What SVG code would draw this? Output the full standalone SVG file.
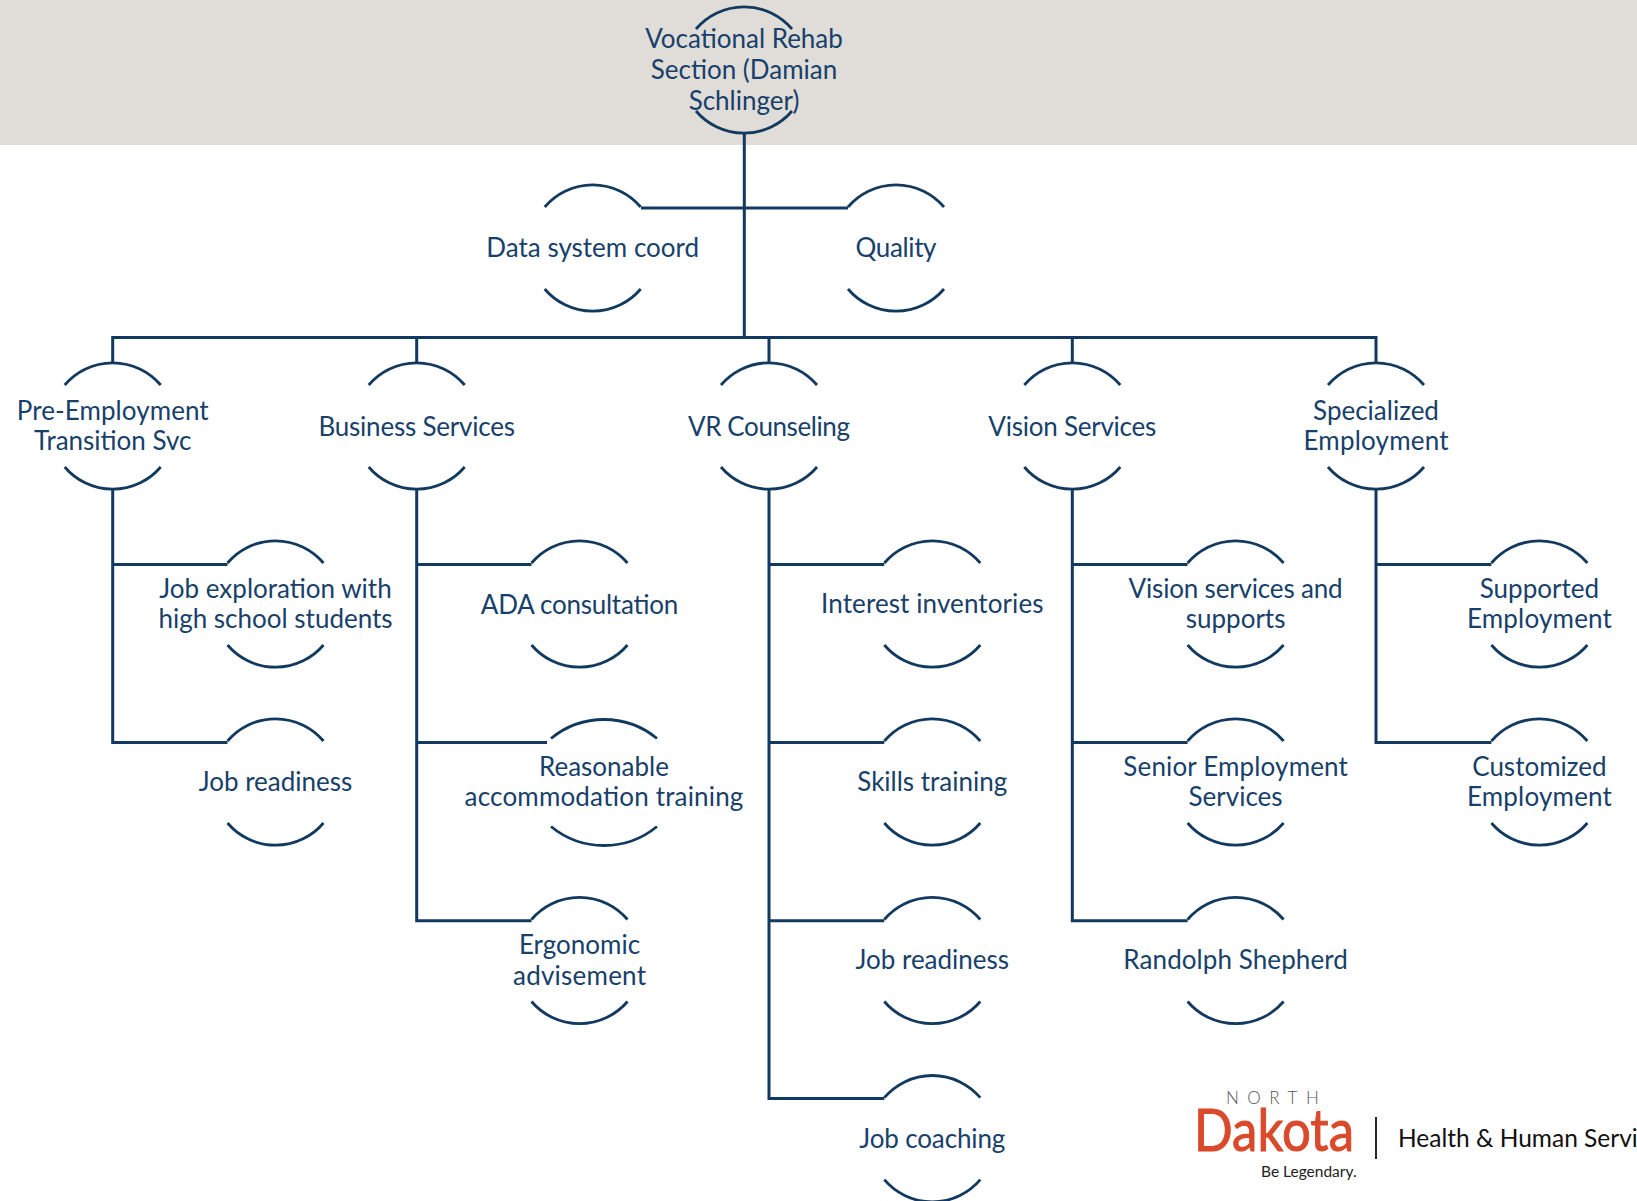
<svg xmlns="http://www.w3.org/2000/svg" width="1637" height="1201" viewBox="0 0 1637 1201">
<style>
.a{fill:none;stroke:#12395f;stroke-width:2.8}
.c{fill:none;stroke:#12395f;stroke-width:3}
.t{font-family:Lato,"Liberation Sans",sans-serif;font-size:26px;fill:#17406a;text-anchor:middle}
.n{font-family:Lato,"Liberation Sans",sans-serif}
</style>
<defs>
<path id="arcs" class="a" d="M-48-41A63 63 0 0 1 48-41M-48 41A63 63 0 0 0 48 41"/>
<path id="arcs-wide" class="a" d="M-53-44A83.400 83.400 0 0 1 53-44M-53 44A83.400 83.400 0 0 0 53 44"/>
</defs>
<rect id="band" width="1637" height="145" fill="#e0ddd9"/>
<g id="connectors" class="c">
<path d="M744.300 133V337.500M641 208H848"/>
<path d="M112.700 363V337.500H1376V363M416.700 337.500V363M769 337.500V363M1072.300 337.500V363"/>
<path d="M112.700 489V742.500H227.500M112.700 564.500H227.500"/>
<path d="M416.700 489V920.700H531.500M416.700 564.500H531.500M416.700 742.500H547"/>
<path d="M769 489V1098.500H884.300M769 564.500H884.300M769 742.500H884.300M769 920.700H884.300"/>
<path d="M1072.300 489V920.700H1187.600M1072.300 564.500H1187.600M1072.300 742.500H1187.600"/>
<path d="M1376 489V742.500H1491.400M1376 564.500H1491.400"/>
</g>
<g id="root"><use href="#arcs" x="744" y="70"/><text class="t" x="744" y="48">Vocational Rehab</text><text class="t" x="744" y="79">Section (Damian</text><text class="t" x="744" y="110">Schlinger)</text></g>
<g id="data-system"><use href="#arcs" x="592.700" y="248"/><text class="t" x="592.700" y="257">Data system coord</text></g>
<g id="quality"><use href="#arcs" x="896" y="248"/><text class="t" x="896" y="257" textLength="81">Quality</text></g>
<g id="pre-employment"><use href="#arcs" x="112.700" y="426"/><text class="t" x="112.700" y="420" textLength="192">Pre-Employment</text><text class="t" x="112.700" y="450">Transition Svc</text></g>
<g id="business"><use href="#arcs" x="416.700" y="426"/><text class="t" x="416.700" y="436" textLength="196.500">Business Services</text></g>
<g id="vr-counseling"><use href="#arcs" x="769" y="426"/><text class="t" x="769" y="436" textLength="162">VR Counseling</text></g>
<g id="vision"><use href="#arcs" x="1072.300" y="426"/><text class="t" x="1072.300" y="436" textLength="168">Vision Services</text></g>
<g id="specialized"><use href="#arcs" x="1376" y="426"/><text class="t" x="1376" y="420">Specialized</text><text class="t" x="1376" y="450" textLength="145">Employment</text></g>
<g id="job-exploration"><use href="#arcs" x="275.500" y="604"/><text class="t" x="275.500" y="598">Job exploration with</text><text class="t" x="275.500" y="628">high school students</text></g>
<g id="job-readiness-1"><use href="#arcs" x="275.500" y="782"/><text class="t" x="275.500" y="791">Job readiness</text></g>
<g id="ada"><use href="#arcs" x="579.500" y="604"/><text class="t" x="579.500" y="614" textLength="197.300">ADA consultation</text></g>
<g id="reasonable"><use href="#arcs-wide" x="604" y="782.500"/><text class="t" x="604" y="776">Reasonable</text><text class="t" x="604" y="806" textLength="278.800">accommodation training</text></g>
<g id="ergonomic"><use href="#arcs" x="579.500" y="960.500"/><text class="t" x="579.500" y="954">Ergonomic</text><text class="t" x="579.500" y="985" textLength="133">advisement</text></g>
<g id="interest"><use href="#arcs" x="932.300" y="604"/><text class="t" x="932.300" y="613" textLength="222.400">Interest inventories</text></g>
<g id="skills"><use href="#arcs" x="932.300" y="782"/><text class="t" x="932.300" y="791">Skills training</text></g>
<g id="job-readiness-2"><use href="#arcs" x="932.300" y="960.500"/><text class="t" x="932.300" y="969">Job readiness</text></g>
<g id="job-coaching"><use href="#arcs" x="932.300" y="1138.700"/><text class="t" x="932.300" y="1148" textLength="146">Job coaching</text></g>
<g id="vision-supports"><use href="#arcs" x="1235.600" y="604"/><text class="t" x="1235.600" y="598" textLength="214">Vision services and</text><text class="t" x="1235.600" y="628">supports</text></g>
<g id="senior"><use href="#arcs" x="1235.600" y="782"/><text class="t" x="1235.600" y="776" textLength="224.500">Senior Employment</text><text class="t" x="1235.600" y="806">Services</text></g>
<g id="randolph"><use href="#arcs" x="1235.600" y="960.500"/><text class="t" x="1235.600" y="969" textLength="224.500">Randolph Shepherd</text></g>
<g id="supported"><use href="#arcs" x="1539.400" y="604"/><text class="t" x="1539.400" y="598">Supported</text><text class="t" x="1539.400" y="628" textLength="145">Employment</text></g>
<g id="customized"><use href="#arcs" x="1539.400" y="782"/><text class="t" x="1539.400" y="776">Customized</text><text class="t" x="1539.400" y="806" textLength="145">Employment</text></g>
<g id="logo">
<text class="n" x="1226" y="1104" font-size="17" letter-spacing="8.500" fill="#555555" font-weight="300">NORTH</text>
<text class="n" x="1194" y="1151" font-size="59" textLength="160" lengthAdjust="spacingAndGlyphs" fill="#d9492a" stroke="#d9492a" stroke-width="1">Dakota</text>
<text class="n" x="1261" y="1177" font-size="15.500" fill="#222222">Be Legendary.</text>
<path d="M1376 1117V1159" stroke="#111111" stroke-width="1.800" fill="none"/>
<text class="n" x="1398" y="1147" font-size="24.500" fill="#111111">Health &amp; Human Services</text>
</g>
</svg>
